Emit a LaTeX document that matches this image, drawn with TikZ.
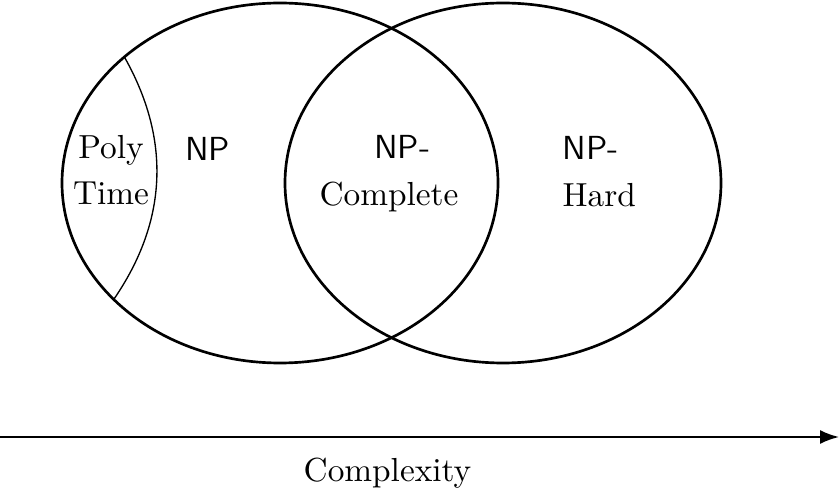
\documentclass[tikz,border=0pt]{standalone}
\usepackage{tikz}
\usetikzlibrary{positioning, arrows.meta, shapes.geometric}
\tikzset{
  classset/.style={
    ellipse,
    draw=black,
    thick,
    minimum width=130.8pt,
    minimum height=108pt,
    inner sep=0pt,
    outer sep=0pt
  },
  classlabel/.style={
    inner sep=0pt,
    font={\fontsize{10}{14}\selectfont}
  },
  axisarrow/.style={
    -{Latex[length=5.7pt,width=4.2pt]},
    semithick
  }
}
\begin{document}
\begin{tikzpicture}[x=0.3pt, y=0.3pt]
  \useasboundingbox (0,0) rectangle (840,492);

  % The two classes
  \node[classset] (np) at (280,309) {};
  \node[classset] (nphard) at (503,309) {};

  % Boundary of the polynomial part
  \draw[thin] (np.141) to[bend left=32] (np.215.5);

  % Region labels
  \node[classlabel, align=center] (polytime) at (111,322) {Poly\\Time};
  \node[classlabel] (nplabel) at (207.5,343.5) {\textsf{NP}};
  \node[classlabel, align=center] (npclabel) at (389,318) {\hspace*{8pt}\textsf{NP-}\\Complete};
  \node[classlabel, align=left, anchor=west] (nphlabel) at (562,320.5) {\textsf{NP-}\\Hard};

  % Complexity axis
  \coordinate (axisstart) at (0,55);
  \coordinate (axisend) at (839,55);
  \draw[axisarrow] (axisstart) -- (axisend);
  \node[classlabel] (axislabel) at (387.5,18.5) {Complexity};
\end{tikzpicture}
\end{document}
